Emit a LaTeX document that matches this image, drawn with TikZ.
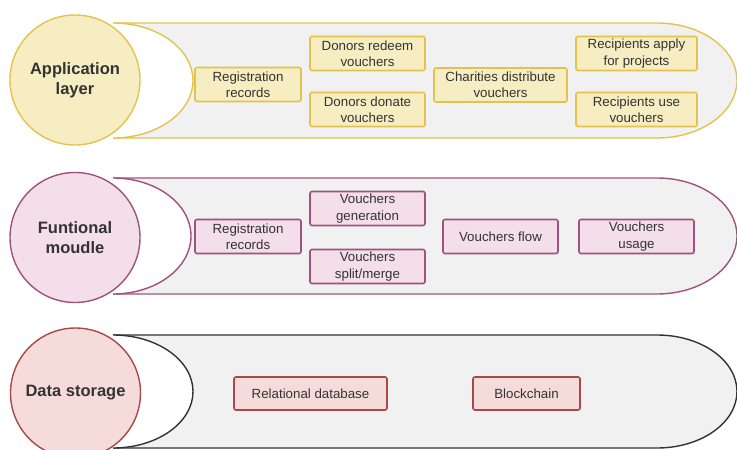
\documentclass[tikz,border=0pt]{standalone}
\usepackage{fontspec}
\setmainfont{Liberation Sans}
\usepackage{xcolor}
\definecolor{appfill}{HTML}{F6EDC2}
\definecolor{appline}{HTML}{E3C34D}
\definecolor{funfill}{HTML}{F3DEEA}
\definecolor{funline}{HTML}{A0527F}
\definecolor{datfill}{HTML}{F5DCDB}
\definecolor{datline}{HTML}{A54A49}
\definecolor{tubefill}{HTML}{F1F1F1}
\definecolor{inkgray}{HTML}{333333}

\begin{document}
\begin{tikzpicture}[x=1pt, y=-1pt, line width=1.4pt,
  every node/.style={text=inkgray},
  layer/.style={circle, minimum size=130pt, inner sep=0pt, align=center,
    font=\fontsize{16.5}{20}\selectfont\bfseries},
  item/.style={rectangle, rounded corners=2pt, align=center, inner sep=0pt,
    line width=1.6pt, minimum height=34pt, font=\fontsize{13.3}{16.3}\selectfont}]
\useasboundingbox (0,0) rectangle (737,450);
% application layer
\filldraw[appline, fill=tubefill] (113,23) -- (657,23)
   arc[start angle=-90, end angle=90, x radius=80, y radius=57.5] -- (113,138);
\filldraw[appline, fill=white] (113,23)
   arc[start angle=-90, end angle=90, x radius=80, y radius=57.5];
\node[layer, draw=appline, fill=appfill] (app) at (75,80) {Application\\layer};
\node[item, draw=appline, fill=appfill, minimum width=106pt] (appreg) at (248,84.5) {Registration\\records};
\node[item, draw=appline, fill=appfill, minimum width=115pt] (redeem) at (367.5,53.5) {Donors redeem\\vouchers};
\node[item, draw=appline, fill=appfill, minimum width=115pt] (donate) at (367.5,109.5) {Donors donate\\vouchers};
\node[item, draw=appline, fill=appfill, minimum width=133pt] (distrib) at (500.5,85) {Charities distribute\\vouchers};
\node[item, draw=appline, fill=appfill, minimum width=121pt] (apply) at (636.5,53.5) {Recipients apply\\for projects};
\node[item, draw=appline, fill=appfill, minimum width=121pt] (use) at (636.5,109.5) {Recipients use\\vouchers};
% functional module
\filldraw[funline, fill=tubefill] (113,178) -- (657,178)
   arc[start angle=-90, end angle=90, x radius=80, y radius=58] -- (113,294);
\filldraw[funline, fill=white] (113,178)
   arc[start angle=-90, end angle=90, x radius=78, y radius=58];
\node[layer, draw=funline, fill=funfill] (fun) at (75,237.5) {Funtional\\moudle};
\node[item, draw=funline, fill=funfill, minimum width=106pt] (funreg) at (248,236.5) {Registration\\records};
\node[item, draw=funline, fill=funfill, minimum width=115pt] (gen) at (367.5,208.5) {Vouchers\\generation};
\node[item, draw=funline, fill=funfill, minimum width=115pt] (split) at (367.5,266.5) {Vouchers\\split/merge};
\node[item, draw=funline, fill=funfill, minimum width=115pt] (flow) at (500.5,236.5) {Vouchers flow};
\node[item, draw=funline, fill=funfill, minimum width=115pt] (usage) at (636.5,236.5) {Vouchers\\usage};
% data storage
\filldraw[inkgray, fill=tubefill] (113,335) -- (657,335)
   arc[start angle=-90, end angle=90, x radius=80, y radius=56.5] -- (113,448);
\filldraw[inkgray, fill=white] (113,335)
   arc[start angle=-90, end angle=90, x radius=80, y radius=56.5];
\node[layer, draw=datline, fill=datfill] (dat) at (75.5,393) {Data storage};
\node[item, draw=datline, fill=datfill, minimum width=153pt, minimum height=33pt] (rdb) at (310.5,393.5) {Relational database};
\node[item, draw=datline, fill=datfill, minimum width=107pt, minimum height=33pt] (chain) at (526.5,393.5) {Blockchain};
\end{tikzpicture}
\end{document}
